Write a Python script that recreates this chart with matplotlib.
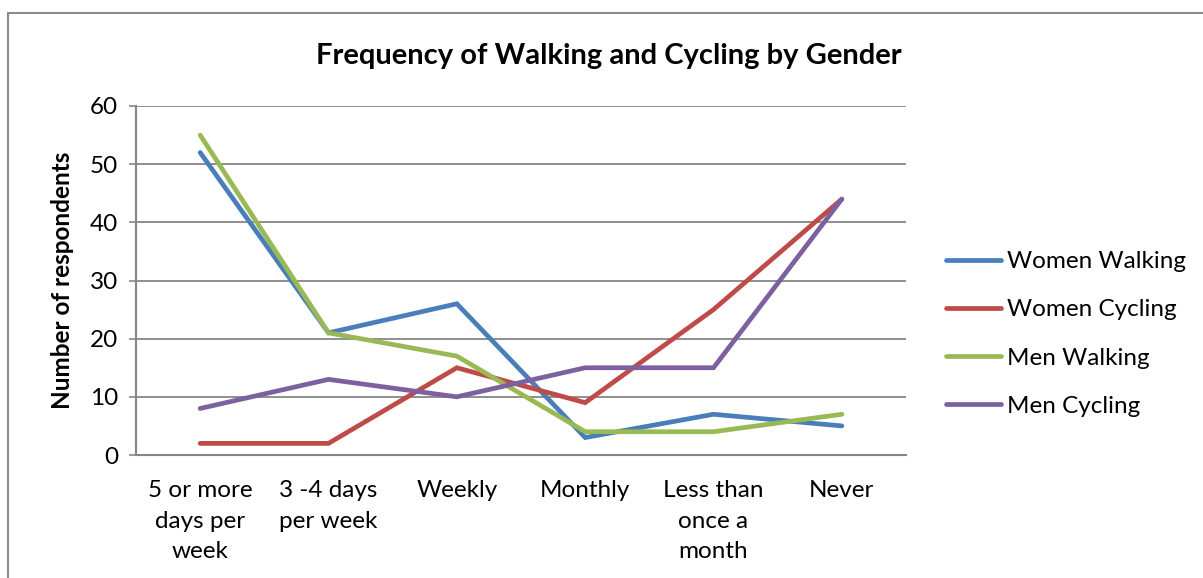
import matplotlib
matplotlib.use("Agg")
import matplotlib.pyplot as plt
from matplotlib.patches import Rectangle

categories = ["5 or more\ndays per\nweek", "3 -4 days\nper week", "Weekly", "Monthly",
              "Less than\nonce a\nmonth", "Never"]
women_walking = [52, 21, 26, 3, 7, 5]
women_cycling = [2, 2, 15, 9, 25, 44]
men_walking = [55, 21, 17, 4, 4, 7]
men_cycling = [8, 13, 10, 15, 15, 44]
series = [("Women Walking", women_walking, "#4A7EBB"),
          ("Women Cycling", women_cycling, "#BE4B48"),
          ("Men Walking", men_walking, "#98B954"),
          ("Men Cycling", men_cycling, "#7D60A0")]
yticks = [0, 10, 20, 30, 40, 50, 60]

plt.rcParams['font.family'] = ['Lato', 'DejaVu Sans']

W, H = 1203, 578
fig = plt.figure(figsize=(W/100, H/100), dpi=100)
fig.patches.append(Rectangle((8/W, -0.05), 1.2, 1 - 13/H + 0.05, transform=fig.transFigure,
                             fill=False, edgecolor="#8C8C8C", linewidth=1.5))

ax = fig.add_axes([136/W, 1 - 455/H, (906-136)/W, (455-106)/H])
x = list(range(len(categories)))
for name, vals, col in series:
    ax.plot(x, vals, color=col, linewidth=3.4, solid_capstyle='round', solid_joinstyle='miter', label=name)

ax.set_xlim(-0.5, len(categories) - 0.5)
ax.set_ylim(0, 60)
ax.set_yticks(yticks)
ax.set_yticklabels([str(v) for v in yticks], fontsize=17.5)
ax.set_xticks(x)
ax.set_xticklabels(categories, fontsize=17.5, linespacing=1.57, va='top')
ax.tick_params(axis='x', length=0, pad=18)
ax.tick_params(axis='y', length=5, color="#868686", width=1.2, pad=8, direction='out')
ax.grid(axis='y', color="#868686", linewidth=1.3)
ax.set_axisbelow(True)
for s in ['top', 'right']:
    ax.spines[s].set_visible(False)
for s in ['left', 'bottom']:
    ax.spines[s].set_color("#868686")
    ax.spines[s].set_linewidth(1.5)

ax.set_ylabel("Number of respondents", fontsize=17.5, fontweight='bold', labelpad=11)
fig.text(609/W, 1 - 56/H, "Frequency of Walking and Cycling by Gender", fontsize=21,
         fontweight='bold', ha='center', va='center')

leg = ax.legend(loc='center left', bbox_to_anchor=(924/W, 1 - 334/H), bbox_transform=fig.transFigure,
                frameon=False, fontsize=17.5, handlelength=2.25, handletextpad=0.25,
                labelspacing=1.12)

fig.savefig("out.png", dpi=100)
